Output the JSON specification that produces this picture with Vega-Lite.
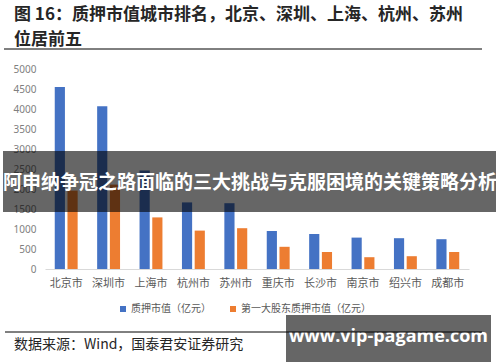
{
  "$schema": "https://vega.github.io/schema/vega-lite/v6.json",
  "autosize": {"type": "none"},
  "width": 424,
  "height": 200,
  "padding": {"left": 45, "top": 69, "right": 31, "bottom": 93},
  "background": "white",
  "title": {
    "text": ["图 16：质押市值城市排名，北京、深圳、上海、杭州、苏州", "位居前五"],
    "anchor": "start",
    "frame": "group",
    "dx": -31,
    "offset": 0,
    "font": "Noto Sans CJK SC",
    "fontSize": 17,
    "fontWeight": "bold",
    "lineHeight": 25,
    "color": "#262626"
  },
  "config": {
    "view": {"stroke": null},
    "font": "Noto Sans CJK SC"
  },
  "layer": [
    {
      "data": {
        "values": [
          {"city": "北京市", "series": "质押市值（亿元）", "value": 4550},
          {"city": "北京市", "series": "第一大股东质押市值（亿元）", "value": 1960},
          {"city": "深圳市", "series": "质押市值（亿元）", "value": 4070},
          {"city": "深圳市", "series": "第一大股东质押市值（亿元）", "value": 2110},
          {"city": "上海市", "series": "质押市值（亿元）", "value": 2465},
          {"city": "上海市", "series": "第一大股东质押市值（亿元）", "value": 1290},
          {"city": "杭州市", "series": "质押市值（亿元）", "value": 1665},
          {"city": "杭州市", "series": "第一大股东质押市值（亿元）", "value": 960},
          {"city": "苏州市", "series": "质押市值（亿元）", "value": 1645},
          {"city": "苏州市", "series": "第一大股东质押市值（亿元）", "value": 1020},
          {"city": "重庆市", "series": "质押市值（亿元）", "value": 950},
          {"city": "重庆市", "series": "第一大股东质押市值（亿元）", "value": 555},
          {"city": "长沙市", "series": "质押市值（亿元）", "value": 875},
          {"city": "长沙市", "series": "第一大股东质押市值（亿元）", "value": 425},
          {"city": "南京市", "series": "质押市值（亿元）", "value": 785},
          {"city": "南京市", "series": "第一大股东质押市值（亿元）", "value": 295},
          {"city": "绍兴市", "series": "质押市值（亿元）", "value": 770},
          {"city": "绍兴市", "series": "第一大股东质押市值（亿元）", "value": 320},
          {"city": "成都市", "series": "质押市值（亿元）", "value": 745},
          {"city": "成都市", "series": "第一大股东质押市值（亿元）", "value": 425}
        ]
      },
      "mark": {"type": "bar"},
      "encoding": {
        "x": {
          "field": "city",
          "type": "nominal",
          "sort": null,
          "scale": {"paddingInner": 0.46, "paddingOuter": 0.23},
          "axis": {
            "title": null,
            "labelAngle": 0,
            "ticks": false,
            "domainColor": "#d9d9d9",
            "labelPadding": 8,
            "labelFontSize": 11,
            "labelColor": "#595959",
            "labelFont": "Noto Sans CJK SC"
          }
        },
        "xOffset": {
          "field": "series",
          "type": "nominal",
          "sort": ["质押市值（亿元）", "第一大股东质押市值（亿元）"],
          "scale": {"paddingInner": 0.2, "paddingOuter": 0}
        },
        "y": {
          "field": "value",
          "type": "quantitative",
          "scale": {"domain": [0, 5000], "nice": false},
          "axis": {
            "title": null,
            "values": [0, 500, 1000, 1500, 2000, 2500, 3000, 3500, 4000, 4500, 5000],
            "format": "d",
            "grid": false,
            "domain": false,
            "ticks": false,
            "labelPadding": 9,
            "labelFontSize": 10,
            "labelColor": "#7f7f7f",
            "labelFont": "Noto Sans"
          }
        },
        "color": {
          "field": "series",
          "type": "nominal",
          "sort": ["质押市值（亿元）", "第一大股东质押市值（亿元）"],
          "scale": {"domain": ["质押市值（亿元）", "第一大股东质押市值（亿元）"], "range": ["#4472C4", "#ED7D31"]},
          "legend": {
            "title": null,
            "orient": "none",
            "direction": "horizontal",
            "legendX": 73,
            "legendY": 235,
            "symbolType": "square",
            "symbolSize": 36,
            "symbolStrokeWidth": 0,
            "labelOffset": 3,
            "columnPadding": 17,
            "labelFontSize": 10,
            "labelColor": "#595959",
            "labelFont": "Noto Sans CJK SC"
          }
        }
      }
    },
    {
      "data": {"values": [{}]},
      "mark": {"type": "rule", "color": "#000000", "strokeWidth": 1},
      "encoding": {"x": {"value": -41}, "x2": {"value": 437}, "y": {"value": -20}}
    },
    {
      "data": {"values": [{}]},
      "mark": {"type": "rect", "color": "#000000", "opacity": 0.6},
      "encoding": {"x": {"value": -42}, "x2": {"value": 451}, "y": {"value": 82}, "y2": {"value": 143}}
    },
    {
      "data": {"values": [{"t": "阿申纳争冠之路面临的三大挑战与克服困境的关键策略分析"}]},
      "mark": {"type": "text", "color": "#ffffff", "fontSize": 19, "fontWeight": "bold", "font": "Noto Sans CJK SC", "align": "center", "baseline": "middle"},
      "encoding": {"text": {"field": "t"}, "x": {"value": 205}, "y": {"value": 114}}
    },
    {
      "data": {"values": [{"t": "数据来源：Wind，国泰君安证券研究"}]},
      "mark": {"type": "text", "color": "#262626", "fontSize": 14, "font": "Noto Sans CJK SC", "align": "left", "baseline": "middle"},
      "encoding": {"text": {"field": "t"}, "x": {"value": -31}, "y": {"value": 276}}
    },
    {
      "data": {"values": [{}]},
      "mark": {"type": "rect", "color": "#000000", "opacity": 0.6},
      "encoding": {"x": {"value": 241}, "x2": {"value": 446}, "y": {"value": 246}, "y2": {"value": 293}}
    },
    {
      "data": {"values": [{"t": "www.vip-pagame.com"}]},
      "mark": {"type": "text", "color": "#ffffff", "fontSize": 18, "fontWeight": "bold", "font": "Open Sans", "align": "center", "baseline": "middle"},
      "encoding": {"text": {"field": "t"}, "x": {"value": 343.5}, "y": {"value": 268}}
    },
    {
      "data": {"values": [{}]},
      "mark": {"type": "rule", "color": "#000000", "strokeWidth": 1},
      "encoding": {"x": {"value": -40}, "x2": {"value": 437}, "y": {"value": 263}}
    }
  ]
}
